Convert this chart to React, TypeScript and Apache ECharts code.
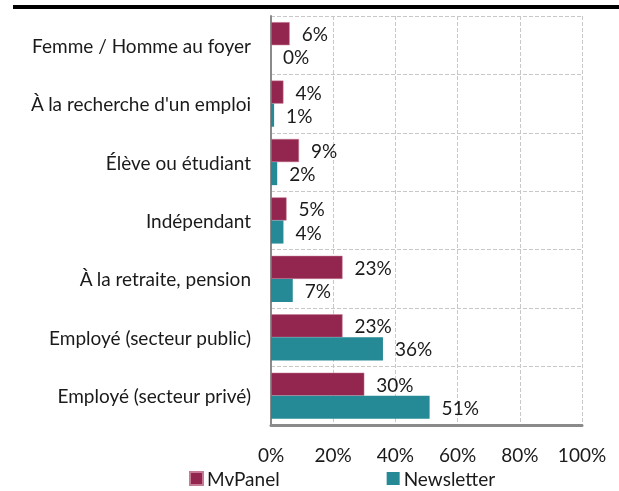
import React, { useEffect, useRef } from "react";
import * as echarts from "echarts";

const categories = [
  "Femme / Homme au foyer",
  "À la recherche d'un emploi",
  "Élève ou étudiant",
  "Indépendant",
  "À la retraite, pension",
  "Employé (secteur public)",
  "Employé (secteur privé)",
];
const mvPanel = [6, 4, 9, 5, 23, 23, 30];
const newsletter = [0, 1, 2, 4, 7, 36, 51];
const seriesNames = ["MvPanel", "Newsletter"];

const FONT = "Lato";
const FS = 19;

export default function App() {
  const ref = useRef<HTMLDivElement>(null);
  useEffect(() => {
    if (!ref.current) return;
    const chart = echarts.init(ref.current, undefined, { renderer: "svg" });
    const label = {
      show: true,
      position: "right",
      distance: 12,
      formatter: "{c}%",
      fontSize: FS,
      fontFamily: FONT,
      color: "#1a1a1a",
    };
    chart.setOption({
      animation: false,
      textStyle: { fontFamily: FONT },
      graphic: [
        {
          type: "rect",
          shape: { x: 13, y: 5, width: 606, height: 4 },
          style: { fill: "#000" },
        },
      ],
      legend: {
        left: 189,
        top: 469,
        icon: "rect",
        itemWidth: 13,
        itemHeight: 13,
        itemGap: 107,
        padding: 0,
        textStyle: { fontSize: FS, fontFamily: FONT, color: "#1a1a1a", padding: [0, 0, 0, -1] },
        data: seriesNames,
      },
      grid: { left: 271, top: 16, right: 37, bottom: 66, containLabel: false },
      xAxis: {
        type: "value",
        min: 0,
        max: 100,
        interval: 20,
        axisLine: { show: true, lineStyle: { color: "#8a8a8a", width: 3 } },
        axisTick: { show: false },
        axisLabel: {
          formatter: "{value}%",
          fontSize: FS,
          fontFamily: FONT,
          color: "#1a1a1a",
          margin: 20,
        },
        splitLine: { show: true, lineStyle: { color: "#c8c8c8", type: "dashed", width: 1 } },
      },
      yAxis: {
        type: "category",
        inverse: true,
        data: categories,
        axisLine: { show: true, lineStyle: { color: "#8a8a8a", width: 2 } },
        axisTick: { show: false },
        axisLabel: {
          fontSize: FS,
          fontFamily: FONT,
          color: "#1a1a1a",
          margin: 20,
        },
        splitLine: { show: true, lineStyle: { color: "#c8c8c8", type: "dashed", width: 1 } },
      },
      series: [
        {
          name: seriesNames[0],
          type: "bar",
          data: mvPanel,
          barGap: "0%",
          barCategoryGap: "21%",
          itemStyle: { color: "#93264f", borderColor: "#c77a95", borderWidth: 0.5 },
          label,
        },
        {
          name: seriesNames[1],
          type: "bar",
          data: newsletter,
          barGap: "0%",
          barCategoryGap: "21%",
          itemStyle: { color: "#268a96" },
          label,
        },
      ],
    });
    return () => chart.dispose();
  }, []);
  return (
    <div
      ref={ref}
      style={{ position: "fixed", left: 0, top: 0, width: 619, height: 491 }}
    />
  );
}
